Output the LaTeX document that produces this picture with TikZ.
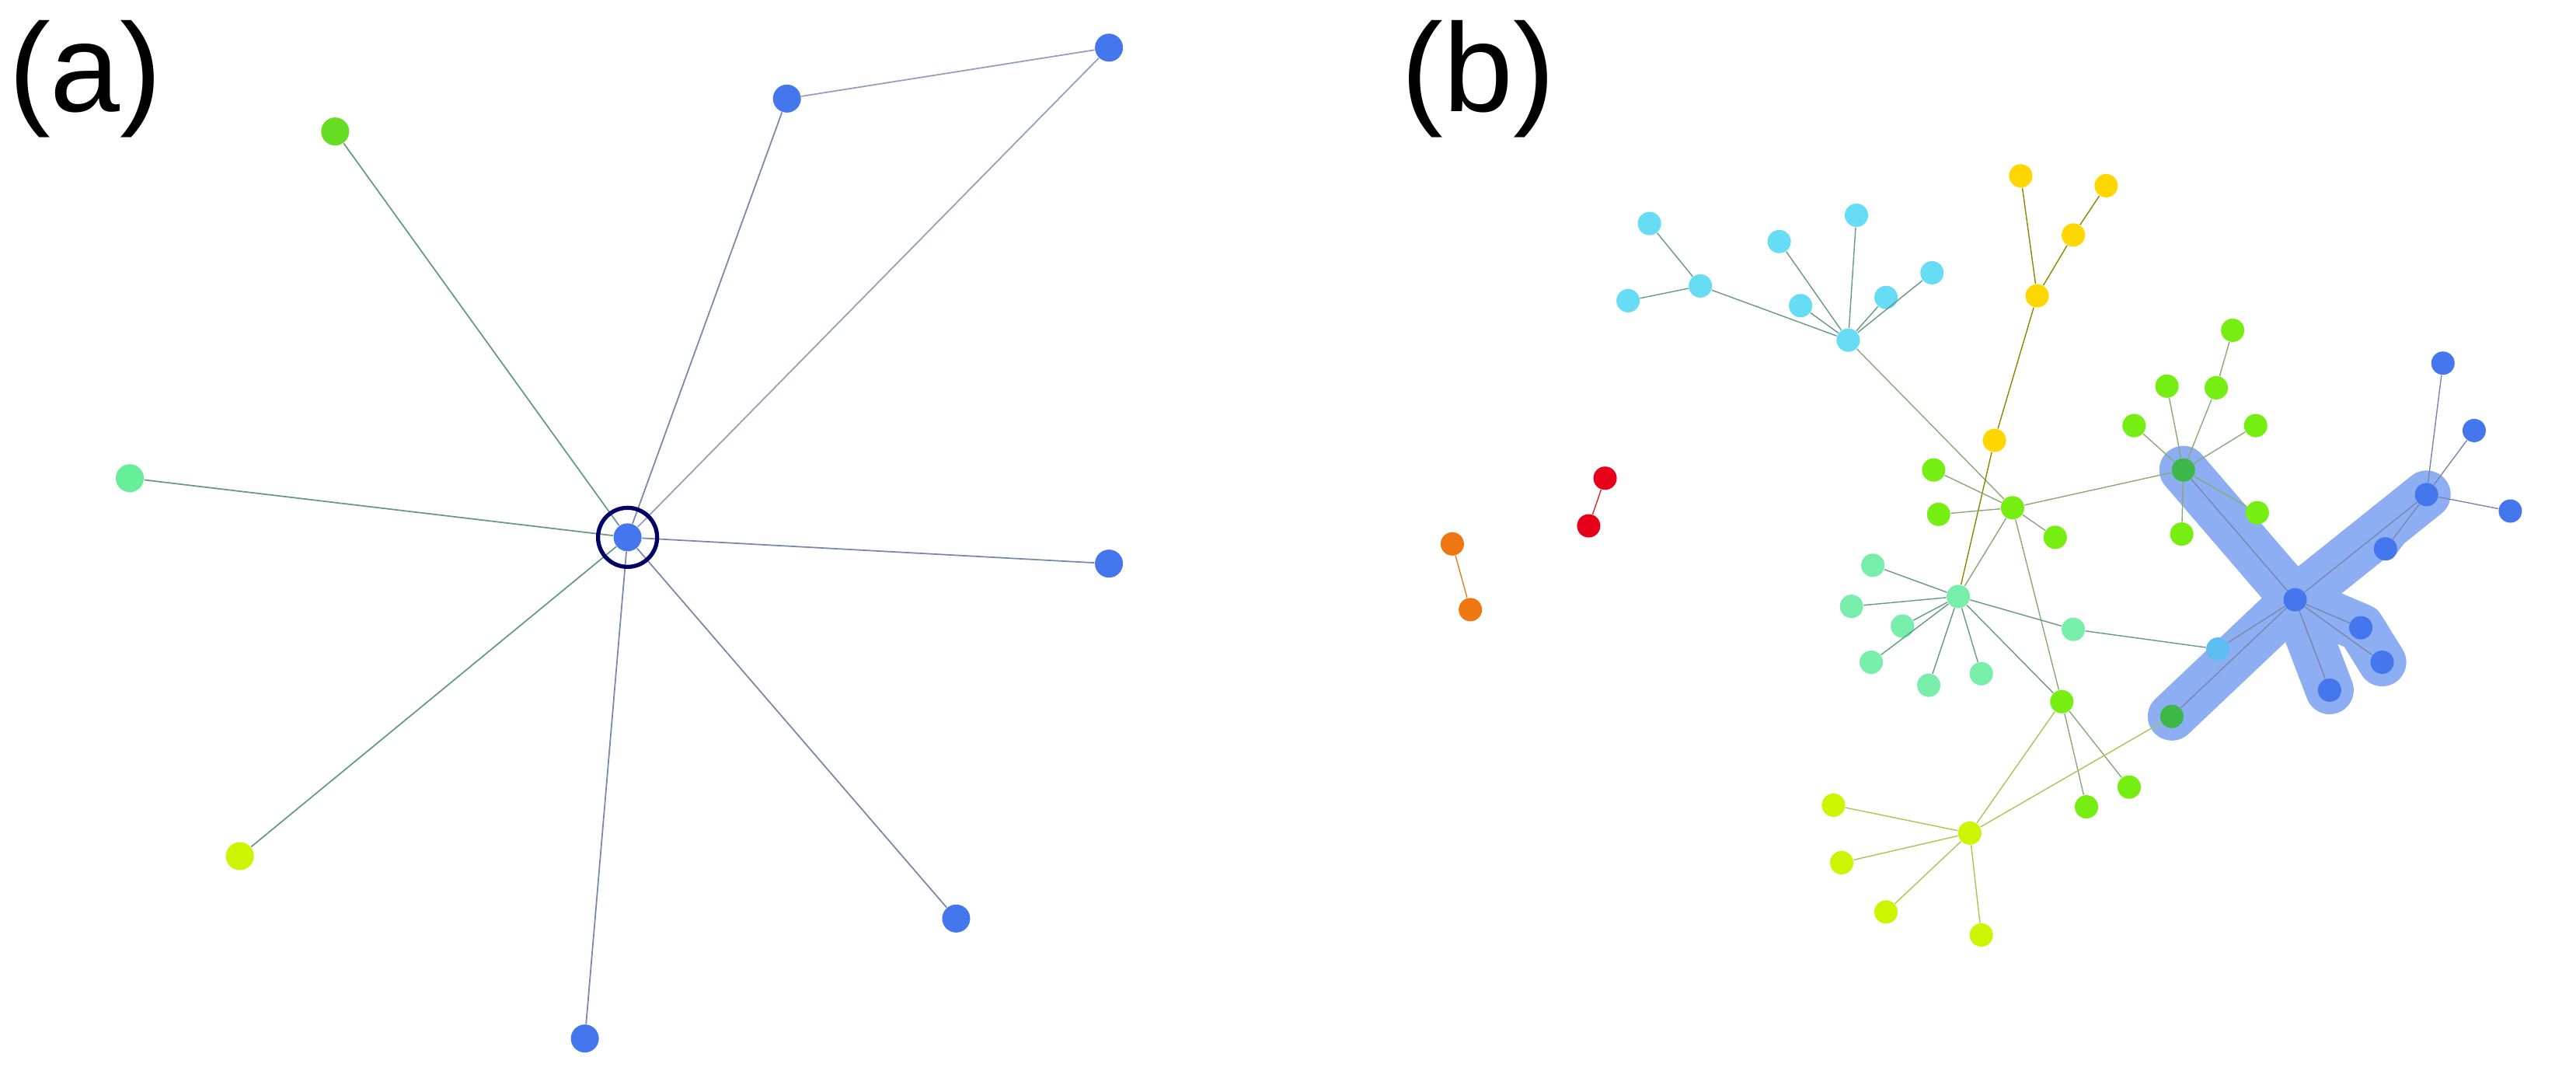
\documentclass[tikz,border=0pt]{standalone}
\usepackage{fontspec}
\setmainfont{Liberation Sans}
\begin{document}
\begin{tikzpicture}[x=0.02114cm,y=-0.02114cm,
 n/.style={circle,inner sep=0pt,minimum size=0.36cm,fill=#1},
 s/.style={circle,inner sep=0pt,minimum size=0.3cm,fill=#1},
 e/.style={draw=#1,line width=0.5pt},
 hl/.style={line width=0.62cm,draw=HL,line cap=round,line join=round},
 lab/.style={font=\fontsize{46}{46}\selectfont,inner sep=0pt}]
\definecolor{B}{HTML}{4477EE}\definecolor{C}{HTML}{66DDF5}\definecolor{Y}{HTML}{FFD700}
\definecolor{G}{HTML}{77EE11}\definecolor{M}{HTML}{77EEAA}\definecolor{YG}{HTML}{CCF500}
\definecolor{R}{HTML}{E8001A}\definecolor{O}{HTML}{EE7711}\definecolor{GA}{HTML}{66DD22}
\definecolor{MA}{HTML}{66EE99}\definecolor{HL}{HTML}{8DAEF2}
\definecolor{EB}{HTML}{7788AA}\definecolor{ET}{HTML}{669988}\definecolor{EG}{HTML}{88AA77}
\useasboundingbox (0,0) rectangle (1568,660);
\node[lab] (la) at (52,48) {(a)};
\node[lab] (lb) at (900,48) {(b)};
% panel a
\node[n=B] (c) at (382,327) {};
\node[n=GA] (a1) at (204,80) {};
\node[n=MA] (a2) at (79,291) {};
\node[n=YG] (a3) at (146,521) {};
\node[n=B] (a4) at (356,632) {};
\node[n=B] (a5) at (582,559) {};
\node[n=B] (a6) at (675,343) {};
\node[n=B] (a7) at (675,29) {};
\node[n=B] (a8) at (479,60) {};
\foreach \t/\col in {a1/ET,a2/ET,a3/ET,a4/EB,a5/EB,a6/EB,a7/EB!80!white,a8/EB}
  \draw[e=\col] (c) -- (\t);
\draw[e=EB!80!white] (a8) -- (a7);
\draw[line width=1.5pt,draw=blue!40!black] (c) circle[radius=0.38cm];
% panel b highlight
\coordinate (h0) at (1397,365);
\draw[hl] (1329,286) -- (h0) -- (1477,301);
\draw[hl] (1322,436) -- (h0);
\draw[hl] (h0) -- (1437,382) -- (1450,403);
\draw[hl] (h0) -- (1418,420);
\draw[hl,line width=0.3cm] (1477,301) -- (1452,334);
% panel b nodes
\foreach \nm/\x/\y/\col in {
 c0/1125/207/C,c1/1035/174/C,c2/1004/136/C,c3/991/183/C,c4/1083/147/C,c5/1096/186/C,c6/1130/131/C,c7/1148/181/C,c8/1176/166/C,
 y1/1230/107/Y,y2/1282/113/Y,y3/1262/143/Y,y4/1240/180/Y,y5/1214/268/Y,
 g0/1225/309/G,g01/1177/286/G,g02/1180/313/G,g03/1251/327/G,
 g1/1329/286/G!50!teal,g11/1319/235/G,g12/1349/236/G,g13/1359/201/G,g14/1299/259/G,g15/1373/259/G,g16/1328/325/G,g17/1374/312/G,
 m0/1192/363/M,m1/1140/344/M,m2/1127/369/M,m3/1158/381/M,m4/1139/403/M,m5/1174/417/M,m6/1206/410/M,m7/1262/383/M,
 g2/1255/427/G,g21/1270/491/G,g22/1296/479/G,
 y0/1199/507/YG,yg1/1116/490/YG,yg2/1121/525/YG,yg3/1148/555/YG,yg4/1206/569/YG,
 b0/1397/365/B,b1/1477/301/B,b11/1487/221/B,b12/1506/262/B,b13/1528/311/B,b14/1452/334/B,
 b2/1437/382/B,b3/1450/403/B,b4/1418/420/B,b5/1350/395/C!70!B,b6/1322/436/G!50!teal,
 r1/977/291/R,r2/967/320/R,o1/884/331/O,o2/895/371/O}
 {\node[s=\col] (\nm) at (\x,\y) {};}
\begin{scope}[line width=0.4pt,on background layer/.try]
\end{scope}
\begin{scope}[line width=0.4pt]
\foreach \a/\b in {c0/c1,c1/c2,c1/c3,c0/c4,c0/c5,c0/c6,c0/c7,c0/c8}\draw[ET] (\a)--(\b);
\draw[EG] (c0)--(g0);
\foreach \a/\b in {y2/y3,y3/y4,y1/y4,y4/y5,y5/m0}\draw[olive] (\a)--(\b);
\foreach \a/\b in {g0/g01,g0/g02,g0/g03,g0/g1,g1/g11,g1/g12,g12/g13,g1/g14,g1/g15,g1/g16,g1/g17,g0/m0,g0/g2,g2/g21,g2/g22}\draw[EG] (\a)--(\b);
\foreach \a/\b in {m0/m1,m0/m2,m0/m3,m0/m4,m0/m5,m0/m6,m0/m7,m7/b5,m0/g2}\draw[ET] (\a)--(\b);
\foreach \a/\b in {y0/yg1,y0/yg2,y0/yg3,y0/yg4,y0/g2,y0/b6}\draw[EG!70!yellow] (\a)--(\b);
\foreach \a/\b in {b0/b1,b1/b11,b1/b12,b1/b13,b1/b14,b0/b2,b0/b3,b0/b4,b0/b5,b0/b6,b0/g1}\draw[EB] (\a)--(\b);
\draw[red!70!gray] (r1)--(r2);\draw[orange!70!gray] (o1)--(o2);
\end{scope}
\end{tikzpicture}
\end{document}
